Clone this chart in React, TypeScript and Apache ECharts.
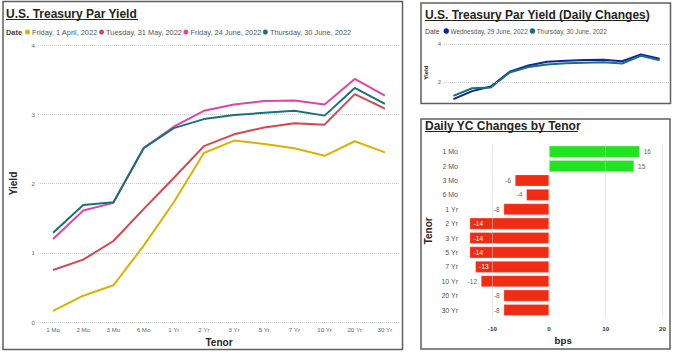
import React, { useEffect, useRef } from 'react';
import * as echarts from 'echarts';

// ---------- data ----------
const tenors = ['1 Mo', '2 Mo', '3 Mo', '6 Mo', '1 Yr', '2 Yr', '3 Yr', '5 Yr', '7 Yr', '10 Yr', '20 Yr', '30 Yr'];

const curveNames = ['Friday, 1 April, 2022', 'Tuesday, 31 May, 2022', 'Friday, 24 June, 2022', 'Thursday, 30 June, 2022'];
const yieldApr1 = [0.16, 0.38, 0.53, 1.1, 1.73, 2.44, 2.62, 2.57, 2.51, 2.4, 2.61, 2.45];
const yieldMay31 = [0.75, 0.9, 1.17, 1.63, 2.08, 2.54, 2.71, 2.81, 2.87, 2.85, 3.29, 3.08];
const yieldJun24 = [1.2, 1.61, 1.72, 2.51, 2.82, 3.05, 3.14, 3.19, 3.2, 3.14, 3.51, 3.27];
const yieldJun30 = [1.29, 1.69, 1.73, 2.51, 2.8, 2.93, 2.99, 3.02, 3.05, 2.98, 3.38, 3.15];

const dailyNames = ['Wednesday, 29 June, 2022', 'Thursday, 30 June, 2022'];
const yieldJun29 = [1.12, 1.54, 1.78, 2.55, 2.88, 3.07, 3.13, 3.16, 3.18, 3.1, 3.46, 3.23];

const changeBps = [16, 15, -6, -4, -8, -14, -14, -14, -13, -12, -8, -8];

const yieldTicks = [0, 1, 2, 3, 4];
const dailyYieldTicks = [2, 4];
const bpsTicks = [-10, 0, 10, 20];

// ---------- style ----------
const FONT = '"Liberation Sans", Arial, sans-serif';
const curveColors = ['#D9B300', '#D64550', '#E044A7', '#197278'];
const dailyColors = ['#12239E', '#197278'];
const GREEN = '#22E31F';
const RED = '#F22C14';
const BORDER = '#5f5f5f';
const GRIDLINE = '#cfcfcf';

export default function App() {
  const ref = useRef<HTMLDivElement>(null);

  useEffect(() => {
    if (!ref.current) return;
    const chart = echarts.init(ref.current, null, { renderer: 'svg' });

    const titleStyle = (size: number) => ({ fontFamily: FONT, fontWeight: 'bold', fontSize: size, fill: '#252423' });

    const option: any = {
      animation: false,
      backgroundColor: '#ffffff',
      textStyle: { fontFamily: FONT },
      graphic: [
        // panel borders
        { type: 'rect', shape: { x: 3, y: 1.5, width: 399.5, height: 348 }, style: { fill: 'none', stroke: BORDER, lineWidth: 1.5 } },
        { type: 'rect', shape: { x: 421, y: 3, width: 249.5, height: 100.5 }, style: { fill: 'none', stroke: BORDER, lineWidth: 1.5 } },
        { type: 'rect', shape: { x: 421, y: 119, width: 249, height: 230 }, style: { fill: 'none', stroke: BORDER, lineWidth: 1.5 } },
        // titles
        { type: 'text', x: 6, y: 14, style: { ...titleStyle(12), text: 'U.S. Treasury Par Yield', verticalAlign: 'middle' } },
        { type: 'line', shape: { x1: 6, y1: 19.5, x2: 138, y2: 19.5 }, style: { stroke: '#252423', lineWidth: 1 } },
        { type: 'text', x: 425, y: 15, style: { ...titleStyle(12), text: 'U.S. Treasury Par Yield (Daily Changes)', verticalAlign: 'middle' } },
        { type: 'line', shape: { x1: 425, y1: 20.5, x2: 648, y2: 20.5 }, style: { stroke: '#252423', lineWidth: 1 } },
        { type: 'text', x: 425, y: 126, style: { ...titleStyle(12), text: 'Daily YC Changes by Tenor', verticalAlign: 'middle' } },
        { type: 'line', shape: { x1: 425, y1: 131.5, x2: 578, y2: 131.5 }, style: { stroke: '#252423', lineWidth: 1 } },
        // legend captions
        { type: 'text', x: 6, y: 32.5, style: { text: 'Date', fontFamily: FONT, fontWeight: 'bold', fontSize: 7.4, fill: '#444', verticalAlign: 'middle' } },
        { type: 'text', x: 425, y: 31.5, style: { text: 'Date', fontFamily: FONT, fontSize: 6.9, fill: '#444', verticalAlign: 'middle' } },
      ],
      legend: [
        {
          data: curveNames,
          left: 25,
          top: 28.5,
          padding: 0,
          icon: 'circle',
          itemWidth: 5,
          itemHeight: 5,
          itemGap: 1.5,
          selectedMode: false,
          textStyle: { fontFamily: FONT, fontSize: 7.4, color: '#555', padding: [0, 0, 0, -3] },
        },
        {
          data: dailyNames,
          left: 443.5,
          top: 28,
          padding: 0,
          icon: 'circle',
          itemWidth: 5.5,
          itemHeight: 5.5,
          itemGap: 2,
          selectedMode: false,
          textStyle: { fontFamily: FONT, fontSize: 6.4, color: '#555', padding: [0, 0, 0, -3.5] },
        },
      ],
      grid: [
        { left: 27, right: 274, top: 45, bottom: 32 },
        { left: 444, right: 5, top: 44, bottom: 252.5 },
        { left: 464, right: 11.6, top: 144.5, bottom: 36.8 },
      ],
      xAxis: [
        {
          gridIndex: 0,
          type: 'category',
          data: tenors,
          boundaryGap: true,
          axisLine: { show: false },
          axisTick: { show: false },
          axisLabel: { fontSize: 6.2, color: '#666', margin: 4 },
          name: 'Tenor',
          nameLocation: 'middle',
          nameGap: 15,
          nameTextStyle: { fontSize: 10, fontWeight: 'bold', color: '#252423' },
        },
        {
          gridIndex: 1,
          type: 'category',
          data: tenors,
          boundaryGap: true,
          axisLine: { show: false },
          axisTick: { show: false },
          axisLabel: { show: false },
        },
        {
          gridIndex: 2,
          type: 'value',
          min: -15,
          max: 20,
          interval: 5,
          axisLine: { show: false },
          axisTick: { show: false },
          splitLine: { show: false },
          axisLabel: {
            fontSize: 6.2,
            fontWeight: 'bold',
            color: '#333',
            margin: 8,
            formatter: (v: number) => (bpsTicks.includes(v) ? String(v) : ''),
          },
          name: 'bps',
          nameLocation: 'middle',
          nameGap: 18,
          nameTextStyle: { fontSize: 9.7, fontWeight: 'bold', color: '#252423' },
        },
      ],
      yAxis: [
        {
          gridIndex: 0,
          type: 'value',
          min: yieldTicks[0],
          max: yieldTicks[yieldTicks.length - 1],
          interval: 1,
          axisLine: { show: false },
          axisTick: { show: false },
          axisLabel: { fontSize: 6.2, color: '#666', margin: 3 },
          splitLine: { lineStyle: { type: 'dotted', color: GRIDLINE, width: 1 } },
          name: 'Yield',
          nameLocation: 'middle',
          nameRotate: 90,
          nameGap: 20,
          nameTextStyle: { fontSize: 10, fontWeight: 'bold', color: '#252423' },
        },
        {
          gridIndex: 1,
          type: 'value',
          min: 1,
          max: 4,
          interval: 1,
          axisLine: { show: false },
          axisTick: { show: false },
          splitLine: { show: false },
          axisLabel: {
            fontSize: 6,
            color: '#666',
            margin: 3,
            formatter: (v: number) => (dailyYieldTicks.includes(v) ? String(v) : ''),
          },
          name: 'Yield',
          nameLocation: 'middle',
          nameRotate: 90,
          nameGap: 15,
          nameTextStyle: { fontSize: 6, fontWeight: 'bold', color: '#252423' },
        },
        {
          gridIndex: 2,
          type: 'category',
          data: tenors,
          inverse: true,
          axisLine: { show: false },
          axisTick: { show: false },
          axisLabel: { fontSize: 7, color: '#555', margin: 6 },
          name: 'Tenor',
          nameLocation: 'middle',
          nameRotate: 90,
          nameGap: 31,
          nameTextStyle: { fontSize: 10, fontWeight: 'bold', color: '#252423' },
        },
      ],
      series: [
        ...[yieldApr1, yieldMay31, yieldJun24, yieldJun30].map((d, i) => ({
          name: curveNames[i],
          type: 'line',
          xAxisIndex: 0,
          yAxisIndex: 0,
          data: d,
          symbol: 'none',
          color: curveColors[i],
          lineStyle: { width: 2, color: curveColors[i] },
          z: 3,
        })),
        {
          name: '__grid_daily',
          type: 'line',
          xAxisIndex: 1,
          yAxisIndex: 1,
          data: [],
          z: 1,
          markLine: {
            silent: true,
            symbol: 'none',
            label: { show: false },
            lineStyle: { type: 'dotted', color: GRIDLINE, width: 1 },
            data: dailyYieldTicks.map((v) => ({ yAxis: v })),
          },
        },
        ...[yieldJun29, yieldJun30].map((d, i) => ({
          name: dailyNames[i],
          type: 'line',
          xAxisIndex: 1,
          yAxisIndex: 1,
          data: d,
          symbol: 'none',
          color: dailyColors[i],
          lineStyle: { width: 2, color: dailyColors[i] },
          z: 3 + i,
        })),
        {
          name: '__grid_bps',
          type: 'line',
          xAxisIndex: 2,
          yAxisIndex: 2,
          data: [],
          z: 1,
          markLine: {
            silent: true,
            symbol: 'none',
            label: { show: false },
            lineStyle: { type: 'dotted', color: GRIDLINE, width: 1 },
            data: bpsTicks.map((v) => ({ xAxis: v })),
          },
        },
        {
          name: 'Daily change',
          type: 'bar',
          xAxisIndex: 2,
          yAxisIndex: 2,
          barCategoryGap: '19%',
          z: 3,
          data: changeBps.map((v) => {
            const inside = v <= -13;
            return {
              value: v,
              itemStyle: { color: v >= 0 ? GREEN : RED, borderColor: 'rgba(255,255,255,0.5)', borderWidth: 0.5 },
              label: {
                show: true,
                position: v >= 0 ? 'right' : inside ? 'insideLeft' : 'left',
                distance: 4,
                fontSize: 6.5,
                color: inside ? '#ffffff' : '#666666',
              },
            };
          }),
        },
      ],
    };

    chart.setOption(option);
    return () => chart.dispose();
  }, []);

  return (
    <div
      ref={ref}
      style={{ position: 'fixed', left: 0, top: 0, width: 674, height: 354, background: '#fff' }}
    />
  );
}
